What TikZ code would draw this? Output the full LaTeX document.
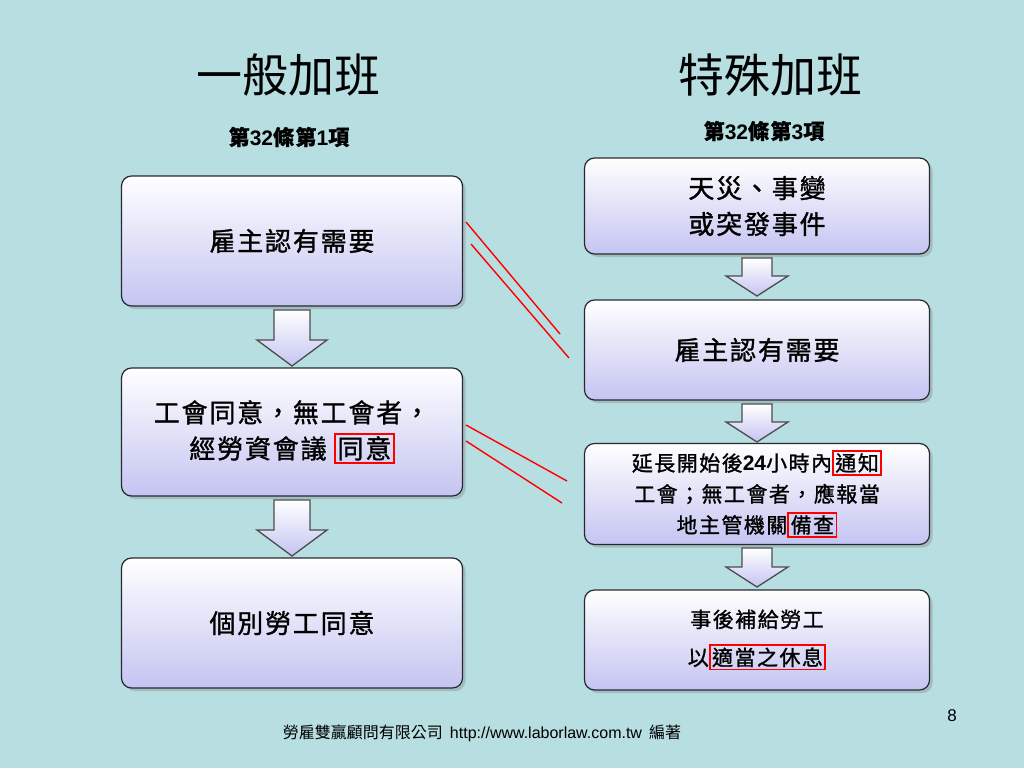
\documentclass[tikz,border=0pt]{standalone}
\usepackage{fontspec}
\setmainfont{Liberation Sans}
\newfontfamily\cjk{Noto Sans CJK TC}[LetterSpace=7,FakeBold=1.2]
\newfontfamily\cjkt{Noto Sans CJK TC}
\usetikzlibrary{shadows}
\definecolor{bg}{RGB}{183,222,224}
\definecolor{lav}{RGB}{196,196,242}
\definecolor{bord}{RGB}{40,40,50}
\newcommand{\rb}[1]{\textcolor{red}{\setlength\fboxsep{1.5pt}\setlength\fboxrule{1.8pt}\fbox{\textcolor{black}{#1}}}}
\newcommand{\darrow}[6]{% x, ytop, ybot, half shaft, half head, head length
 \path[darr] (#1-#4,#2) -- (#1+#4,#2) -- (#1+#4,#3-#6) -- (#1+#5,#3-#6) -- (#1,#3) -- (#1-#5,#3-#6) -- (#1-#4,#3-#6) -- cycle;}
\tikzset{
 box/.style={draw=bord,line width=1.2pt,rounded corners=10pt,top color=white,bottom color=lav,
   drop shadow={shadow xshift=3pt,shadow yshift=-3pt,opacity=0.35},align=center,
   font=\cjk\fontsize{26}{36}\selectfont},
 darr/.style={draw=gray!60!black,line width=1.3pt,line join=miter,top color=white,bottom color=lav},
 redl/.style={red,line width=1.4pt},
}
\begin{document}
\begin{tikzpicture}[x=1pt,y=-1pt]
\fill[bg] (0,0) rectangle (1024,768);
\useasboundingbox (0,0) rectangle (1024,768);
\node[font=\cjkt\fontsize{46}{46}\selectfont] (t1) at (288,75) {一般加班};
\node[font=\cjkt\fontsize{46}{46}\selectfont] (t2) at (770,75) {特殊加班};
\node[font=\cjk\bfseries\fontsize{21}{21}\selectfont] (s1) at (289,137) {第{\rmfamily 32}條第{\rmfamily 1}項};
\node[font=\cjk\bfseries\fontsize{21}{21}\selectfont] (s2) at (764,131) {第{\rmfamily 32}條第{\rmfamily 3}項};
% left
\node[box,minimum width=341pt,minimum height=130pt] (l1) at (292,241) {雇主認有需要};
\node[box,minimum width=341pt,minimum height=128pt] (l2) at (292,432) {工會同意，無工會者，\\經勞資會議 \rb{同意}};
\node[box,minimum width=341pt,minimum height=130pt] (l3) at (292,623) {個別勞工同意};
\darrow{292}{310}{366}{18}{35}{26}
\darrow{292}{500}{556}{18}{35}{26}
% right
\node[box,minimum width=345pt,minimum height=96pt] (r1) at (757,206) {天災、事變\\或突發事件};
\node[box,minimum width=345pt,minimum height=100pt] (r2) at (757,350) {雇主認有需要};
\node[box,minimum width=345pt,minimum height=101pt,font=\cjk\fontsize{21}{31}\selectfont] (r3) at (757,494) {延長開始後{\rmfamily\bfseries 24}小時內\rb{通知}\\工會；無工會者，應報當\\地主管機關\rb{備查}};
\node[box,minimum width=345pt,minimum height=100pt,font=\cjk\fontsize{21}{38}\selectfont] (r4) at (757,640) {事後補給勞工\\以\rb{適當之休息}};
\darrow{757}{258}{296}{15}{31}{20}
\darrow{757}{404}{442}{15}{31}{20}
\darrow{757}{548}{587}{15}{31}{20}
% red lines
\coordinate (a1) at (466,222); \coordinate (a2) at (560,334);
\coordinate (b1) at (471,244); \coordinate (b2) at (569,358);
\coordinate (c1) at (466,425); \coordinate (c2) at (567,481);
\coordinate (d1) at (466,441); \coordinate (d2) at (562,503);
\draw[redl] (a1)--(a2); \draw[redl] (b1)--(b2);
\draw[redl] (c1)--(c2); \draw[redl] (d1)--(d2);
\node[font=\cjkt\fontsize{16}{16}\selectfont] (ft) at (482,733) {勞雇雙贏顧問有限公司\ \ {\rmfamily http://www.laborlaw.com.tw}\ \ 編著};
\node[font=\fontsize{17}{17}\selectfont] (pg) at (952,716) {8};
\end{tikzpicture}
\end{document}
